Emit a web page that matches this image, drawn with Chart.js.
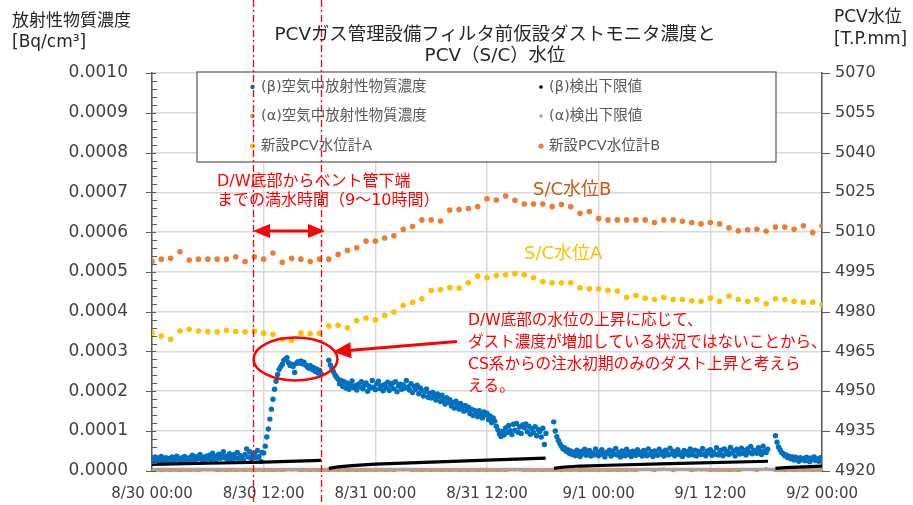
<!DOCTYPE html>
<html>
<head>
<meta charset="utf-8">
<script src="https://cdn.jsdelivr.net/npm/chart.js@4.4.1/dist/chart.umd.min.js"></script>
<style>
html,body{margin:0;padding:0;background:#fff;}
canvas{display:block;}
</style>
</head>
<body>
<canvas id="dustChart" width="913" height="505"></canvas>
<script>
// x axis is hours from 8/30 00:00
const xTickLabels = ["8/30 00:00","8/30 12:00","8/31 00:00","8/31 12:00","9/1 00:00","9/1 12:00","9/2 00:00"];

// dust monitor, 10 min samples, values in 1e-4 Bq/cm3, one array per run
const betaStartHours = [0, 19, 43.17, 67];
const betaRun1 = [
0.30,0.24,0.35,0.27,0.32,0.22,0.36,0.28,0.25,0.33,0.27,0.31,
0.26,0.35,0.24,0.30,0.37,0.27,0.22,0.32,0.26,0.36,0.29,0.25,
0.33,0.27,0.39,0.29,0.25,0.36,0.31,0.41,0.28,0.34,0.26,0.37,
0.30,0.39,0.28,0.44,0.33,0.27,0.38,0.42,0.31,0.40,0.48,0.32,
0.37,0.29,0.43,0.34,0.26,0.41,0.32,0.46,0.30,0.38,0.34,0.27,
0.41,0.55,0.35,0.48,0.30,0.39,0.44,0.33,0.51,0.36,0.24,0.46,
0.45,0.62,0.85,1.05,1.30,1.55,
1.80,2.05,2.25,2.42,2.55,2.62,
2.68,2.78,2.80,2.84,2.72,2.65,
2.68,2.62,2.47,2.70,2.74,2.71,
2.76,2.69,2.73,2.66,2.62,2.58,
2.65,2.55,2.60,2.50,2.56,2.46,
2.53,2.44
];
const betaRun2 = [
2.78,2.66,2.58,2.49,2.41,2.35,
2.30,2.19,2.27,2.12,2.24,2.08,
2.20,2.05,2.16,2.26,2.09,2.14,
2.03,2.18,2.11,2.24,2.06,2.15,
2.21,2.00,2.13,2.08,2.27,2.10,
2.04,2.19,2.25,2.07,2.14,2.01,
2.17,2.09,2.23,2.02,2.15,2.20,
2.06,2.24,1.99,2.13,2.18,2.05,
2.16,2.08,2.27,2.11,2.03,2.19,
1.97,2.12,2.05,2.15,1.94,2.08,
2.02,1.88,1.99,2.06,1.85,1.95,
1.83,1.97,1.89,1.78,1.93,1.86,
1.74,1.90,1.79,1.68,1.84,1.72,
1.79,1.63,1.72,1.58,1.75,1.66,
1.55,1.69,1.61,1.50,1.64,1.53,
1.60,1.44,1.55,1.39,1.52,1.47,
1.36,1.51,1.43,1.33,1.48,1.40,
1.45,1.29,1.38,1.21,1.33,1.25,
1.12,1.03,0.93,0.86,0.99,0.90,
1.08,0.96,1.14,1.01,0.91,1.17,
1.02,1.19,0.97,1.10,0.94,1.15,
1.09,1.18,0.98,1.12,0.92,1.06,
0.96,1.11,0.88,1.04,0.99,0.85,
1.07,0.66,0.94
];
const betaRun3 = [
1.23,1.00,0.86,0.76,0.68,
0.62,0.55,0.58,0.49,0.53,0.44,
0.50,0.41,0.47,0.38,0.52,0.43,
0.36,0.49,0.42,0.54,0.39,0.46,
0.51,0.37,0.45,0.40,0.55,0.43,
0.38,0.48,0.53,0.41,0.35,0.47,
0.44,0.52,0.37,0.49,0.42,0.56,
0.40,0.46,0.35,0.50,0.43,0.38,
0.54,0.41,0.47,0.36,0.49,0.44,
0.39,0.53,0.42,0.46,0.37,0.51,
0.45,0.38,0.55,0.41,0.48,0.36,
0.50,0.43,0.39,0.54,0.42,0.47,
0.37,0.52,0.44,0.40,0.57,0.43,
0.49,0.38,0.46,0.53,0.41,0.45,
0.36,0.51,0.43,0.48,0.39,0.55,
0.44,0.40,0.52,0.37,0.49,0.46,
0.41,0.56,0.43,0.38,0.50,0.45,
0.53,0.39,0.47,0.42,0.58,0.40,
0.46,0.52,0.38,0.55,0.43,0.49,
0.41,0.59,0.45,0.50,0.37,0.54,
0.48,0.42,0.57,0.44,0.51,0.40,
0.55,0.46,0.61,0.43,0.52,0.47,
0.44,0.58,0.49,0.41,0.62,0.50,
0.46,0.54
];
const betaRun4 = [
0.88,0.72,0.60,0.53,0.46,0.43,
0.38,0.40,0.33,0.36,0.30,0.35,
0.27,0.34,0.29,0.24,0.33,0.28,
0.31,0.25,0.34,0.29,0.23,0.32,
0.28,0.35,0.26,0.30,0.24,0.33,
0.29
];

// beta detection limit (1e-4), null = no data
const betaLldHours = [0,6,12,18.2, 18.6, 19,20,21.5,24,30,36,42.3, 42.7, 43.2,44,46,49,55.7,66.2, 66.6, 67,68,72];
const betaLldE4    = [0.16,0.19,0.22,0.26, null, 0.06,0.10,0.13,0.17,0.22,0.27,0.32, null, 0.06,0.09,0.12,0.14,0.18,0.24, null, 0.06,0.08,0.12];

// alpha, hourly (1e-4)
const alphaLldHours = [0,24,48,72];
const alphaLldE4 = [0.03,0.03,0.03,0.03];
const alphaE4 = [0,0,0.01,0,0,0,0.02,0,0,0,0.01,0,0,0,0,0.02,0,0,0,0,0,0.01,0,0,0,0,0,0.02,0,0,0,0,0.01,0,0,0,0,0,0,0.02,0,0,0,0,0,0.01,0,0,0,0,0,0,0,0.03,0,0.05,0,0.04,0,0.02,0,0,0,0,0.03,0,0.06,0,0,0,0.01,0,0];

// PCV water level, hourly, T.P.mm
const levelA = [4972.1,4970.8,4969.6,4972.7,4973.4,4972.7,4972.5,4972.4,4973.0,4972.5,4972.4,4972.6,4971.9,4971.5,4969.6,4969.1,4971.9,4971.7,4971.9,4974.6,4974.9,4973.9,4976.7,4977.6,4976.9,4978.6,4979.9,4982.4,4983.5,4984.9,4988.0,4988.3,4989.1,4988.9,4990.9,4993.4,4992.8,4993.6,4993.9,4994.3,4993.9,4992.8,4991.4,4990.9,4990.9,4990.9,4989.0,4988.6,4988.6,4988.1,4987.8,4985.4,4986.1,4985.1,4984.6,4985.3,4984.6,4984.6,4984.1,4983.9,4985.1,4983.9,4985.9,4984.6,4983.9,4984.6,4983.0,4984.9,4984.6,4983.9,4983.6,4983.6,4982.6];
const levelB = [4998.9,4999.8,5000.1,5002.6,4999.5,4999.8,4999.8,4999.8,4999.8,5000.7,4998.9,5000.7,4999.8,5002.1,4998.6,5000.1,4999.8,4998.9,4999.8,4999.8,5001.6,5003.1,5004.1,5006.6,5006.6,5007.8,5008.6,5011.1,5012.1,5014.6,5014.6,5014.2,5018.3,5018.5,5018.9,5019.6,5022.6,5022.1,5023.6,5022.0,5020.6,5020.6,5020.6,5019.6,5020.4,5019.6,5017.1,5017.8,5015.1,5014.6,5014.6,5014.6,5014.6,5014.6,5013.6,5014.6,5014.6,5014.1,5013.6,5013.1,5013.6,5013.1,5011.6,5010.5,5010.9,5011.1,5010.3,5011.9,5011.9,5011.1,5012.4,5009.9,5012.4];

const FONT = '"DejaVu Sans","Noto Sans CJK JP",sans-serif';
Chart.defaults.font.family = FONT;

function betaPoints(){
let pts=[];
[betaRun1,betaRun2,betaRun3,betaRun4].forEach((run,k)=>{
run.forEach((v,i)=>{
pts.push({x:betaStartHours[k]+i/6,y:v*1e-4});
});
});
return pts;
}

function pairs(hours,vals,scale){
return hours.map((h,i)=>({x:h,y:vals[i]===null?null:vals[i]*scale}));
}

function hourly(vals,scale){
return vals.map((v,i)=>({x:i,y:v*scale}));
}

const datasets=[
{label:"(β)検出下限値",data:pairs(betaLldHours,betaLldE4,1e-4),yAxisID:"y",showLine:true,borderColor:"#000000",borderWidth:3.2,pointRadius:0,legendColor:"#000000",legendR:1.8},
{label:"(β)空気中放射性物質濃度",data:betaPoints(),yAxisID:"y",showLine:false,pointRadius:2.7,pointBorderWidth:0,backgroundColor:"#0070C0",borderColor:"#0070C0",legendColor:"#0070C0",legendR:2.2},
{label:"(α)検出下限値",data:pairs(alphaLldHours,alphaLldE4,1e-4),yAxisID:"y",showLine:true,borderColor:"#A5A5A5",borderWidth:3.5,pointRadius:0,legendColor:"#A5A5A5",legendR:1.8},
{label:"(α)空気中放射性物質濃度",data:hourly(alphaE4,1e-4),yAxisID:"y",showLine:true,borderColor:"#ED7D31",borderWidth:2,pointRadius:1.5,pointBorderWidth:0,backgroundColor:"#ED7D31",clip:false,legendColor:"#ED7D31",legendR:2.2},
{label:"新設PCV水位計A",data:hourly(levelA,1),yAxisID:"y2",showLine:false,pointRadius:2.8,pointBorderWidth:0,backgroundColor:"#FFC000",borderColor:"#FFC000",legendColor:"#FFC000",legendR:2.6},
{label:"新設PCV水位計B",data:hourly(levelB,1),yAxisID:"y2",showLine:false,pointRadius:2.8,pointBorderWidth:0,backgroundColor:"#ED7D31",borderColor:"#ED7D31",legendColor:"#ED7D31",legendR:2.6}
];

// legend grid: rows of [left column, right column] dataset indexes
const legendRows=[[1,0],[3,2],[4,5]];

function arrowHead(ctx,x1,y1,x2,y2,len,half){
let a=Math.atan2(y2-y1,x2-x1);
ctx.beginPath();
ctx.moveTo(x2,y2);
ctx.lineTo(x2-len*Math.cos(a)+half*Math.sin(a),y2-len*Math.sin(a)-half*Math.cos(a));
ctx.lineTo(x2-len*Math.cos(a)-half*Math.sin(a),y2-len*Math.sin(a)+half*Math.cos(a));
ctx.closePath();
ctx.fill();
}

function text(ctx,str,x,y,size,color,align){
ctx.font=size+"px "+FONT;
ctx.fillStyle=color;
ctx.textAlign=align||"left";
ctx.textBaseline="middle";
ctx.fillText(str,x,y);
}

const overlayPlugin={
id:"overlay",
afterDraw(chart){
const ctx=chart.ctx;
const {left,right,top,bottom}=chart.chartArea;
const xs=chart.scales.x, ys=chart.scales.y, y2s=chart.scales.y2;
ctx.save();

// axis tick marks
ctx.strokeStyle="#595959";
ctx.lineWidth=1;
for(let j=0;j<=50;j++){
let yy=Math.round(ys.getPixelForValue(j*0.00002))+0.5;
ctx.beginPath();
if(j%5===0){ctx.moveTo(left-6,yy);ctx.lineTo(left+4,yy);}
else{ctx.moveTo(left,yy);ctx.lineTo(left+5,yy);}
ctx.stroke();
}
for(let i=0;i<=10;i++){
let yy=Math.round(y2s.getPixelForValue(4920+15*i))+0.5;
ctx.beginPath();ctx.moveTo(right,yy);ctx.lineTo(right+8,yy);ctx.stroke();
}

// legend box
ctx.fillStyle="#ffffff";
ctx.fillRect(197,72,579,90);
ctx.strokeStyle="#595959";
ctx.lineWidth=1.2;
ctx.strokeRect(197,72,579,90);
const rowY=[87,116,146];
const colDot=[252.5,541], colText=[261,549];
legendRows.forEach((row,r)=>{
row.forEach((di,c)=>{
let ds=chart.data.datasets[di];
ctx.fillStyle=ds.legendColor;
ctx.beginPath();ctx.arc(colDot[c],rowY[r],ds.legendR,0,Math.PI*2);ctx.fill();
text(ctx,ds.label,colText[c],rowY[r],14.5,"#595959");
});
});

// notes
const red="#FF0000";
text(ctx,"D/W底部からベント管下端",217,182,16,red);
text(ctx,"までの満水時間（9～10時間）",217,201,16,red);
text(ctx,"S/C水位B",533,190,18,"#C55A11");
text(ctx,"S/C水位A",524,254,18,"#FFC000");
const note=["D/W底部の水位の上昇に応じて、","ダスト濃度が増加している状況ではないことから、","CS系からの注水初期のみのダスト上昇と考えら","える。"];
note.forEach((s,i)=>text(ctx,s,468,321+i*22,15.6,red));

ctx.strokeStyle=red;ctx.fillStyle=red;
// double arrow
ctx.lineWidth=3;
ctx.beginPath();ctx.moveTo(266,231);ctx.lineTo(312,231);ctx.stroke();
arrowHead(ctx,300,231,253,231,17,7);
arrowHead(ctx,260,231,325,231,17,7);
// note arrow
ctx.beginPath();ctx.moveTo(457,341.5);ctx.lineTo(348,350.5);ctx.stroke();
arrowHead(ctx,457,341.5,333,351.8,18,8);
// ellipse
ctx.lineWidth=2.5;
ctx.beginPath();ctx.ellipse(295.5,359,42,21.5,0,0,Math.PI*2);ctx.stroke();

// dash-dot markers of the fill period
ctx.lineWidth=1.3;
ctx.setLineDash([7,3,2,3]);
[10.82,18.13].forEach(h=>{
let xx=Math.round(xs.getPixelForValue(h))+0.5;
ctx.beginPath();ctx.moveTo(xx,0);ctx.lineTo(xx,505);ctx.stroke();
});
ctx.setLineDash([]);

// titles
text(ctx,"PCVガス管理設備フィルタ前仮設ダストモニタ濃度と",495,35,18.4,"#262626","center");
text(ctx,"PCV（S/C）水位",495,56,18.4,"#262626","center");
text(ctx,"放射性物質濃度",12,22,17,"#262626");
text(ctx,"[Bq/cm³]",12,43,17,"#262626");
text(ctx,"PCV水位",834,18,17,"#262626");
text(ctx,"[T.P.mm]",834,40,17,"#262626");

ctx.restore();
}
};

new Chart(document.getElementById("dustChart"),{
type:"scatter",
data:{datasets:datasets},
options:{
responsive:false,
animation:false,
layout:{padding:{top:73,left:0,right:0,bottom:0}},
plugins:{legend:{display:false},tooltip:{enabled:false}},
scales:{
x:{
type:"linear",min:0,max:72,
afterFit(s){s.height=32;},
ticks:{stepSize:12,autoSkip:false,maxRotation:0,color:"#404040",font:{size:15},padding:14,
callback:v=>xTickLabels[Math.round(v/12)]},
grid:{color:"#D9D9D9",lineWidth:1.5,drawTicks:false},
border:{display:false}
},
y:{
position:"left",min:0,max:0.001,
afterFit(s){s.width=152;},
ticks:{stepSize:0.0001,color:"#404040",font:{size:17},padding:24,callback:v=>v.toFixed(4)},
grid:{color:"#D9D9D9",lineWidth:1.5,drawTicks:false},
border:{color:"#595959",width:1.5}
},
y2:{
position:"right",min:4920,max:5070,
afterFit(s){s.width=91;},
ticks:{stepSize:15,color:"#404040",font:{size:16},padding:13,callback:v=>String(v)},
grid:{drawOnChartArea:false,drawTicks:false},
border:{color:"#595959",width:1.5}
}
}
},
plugins:[overlayPlugin]
});
</script>
</body>
</html>
